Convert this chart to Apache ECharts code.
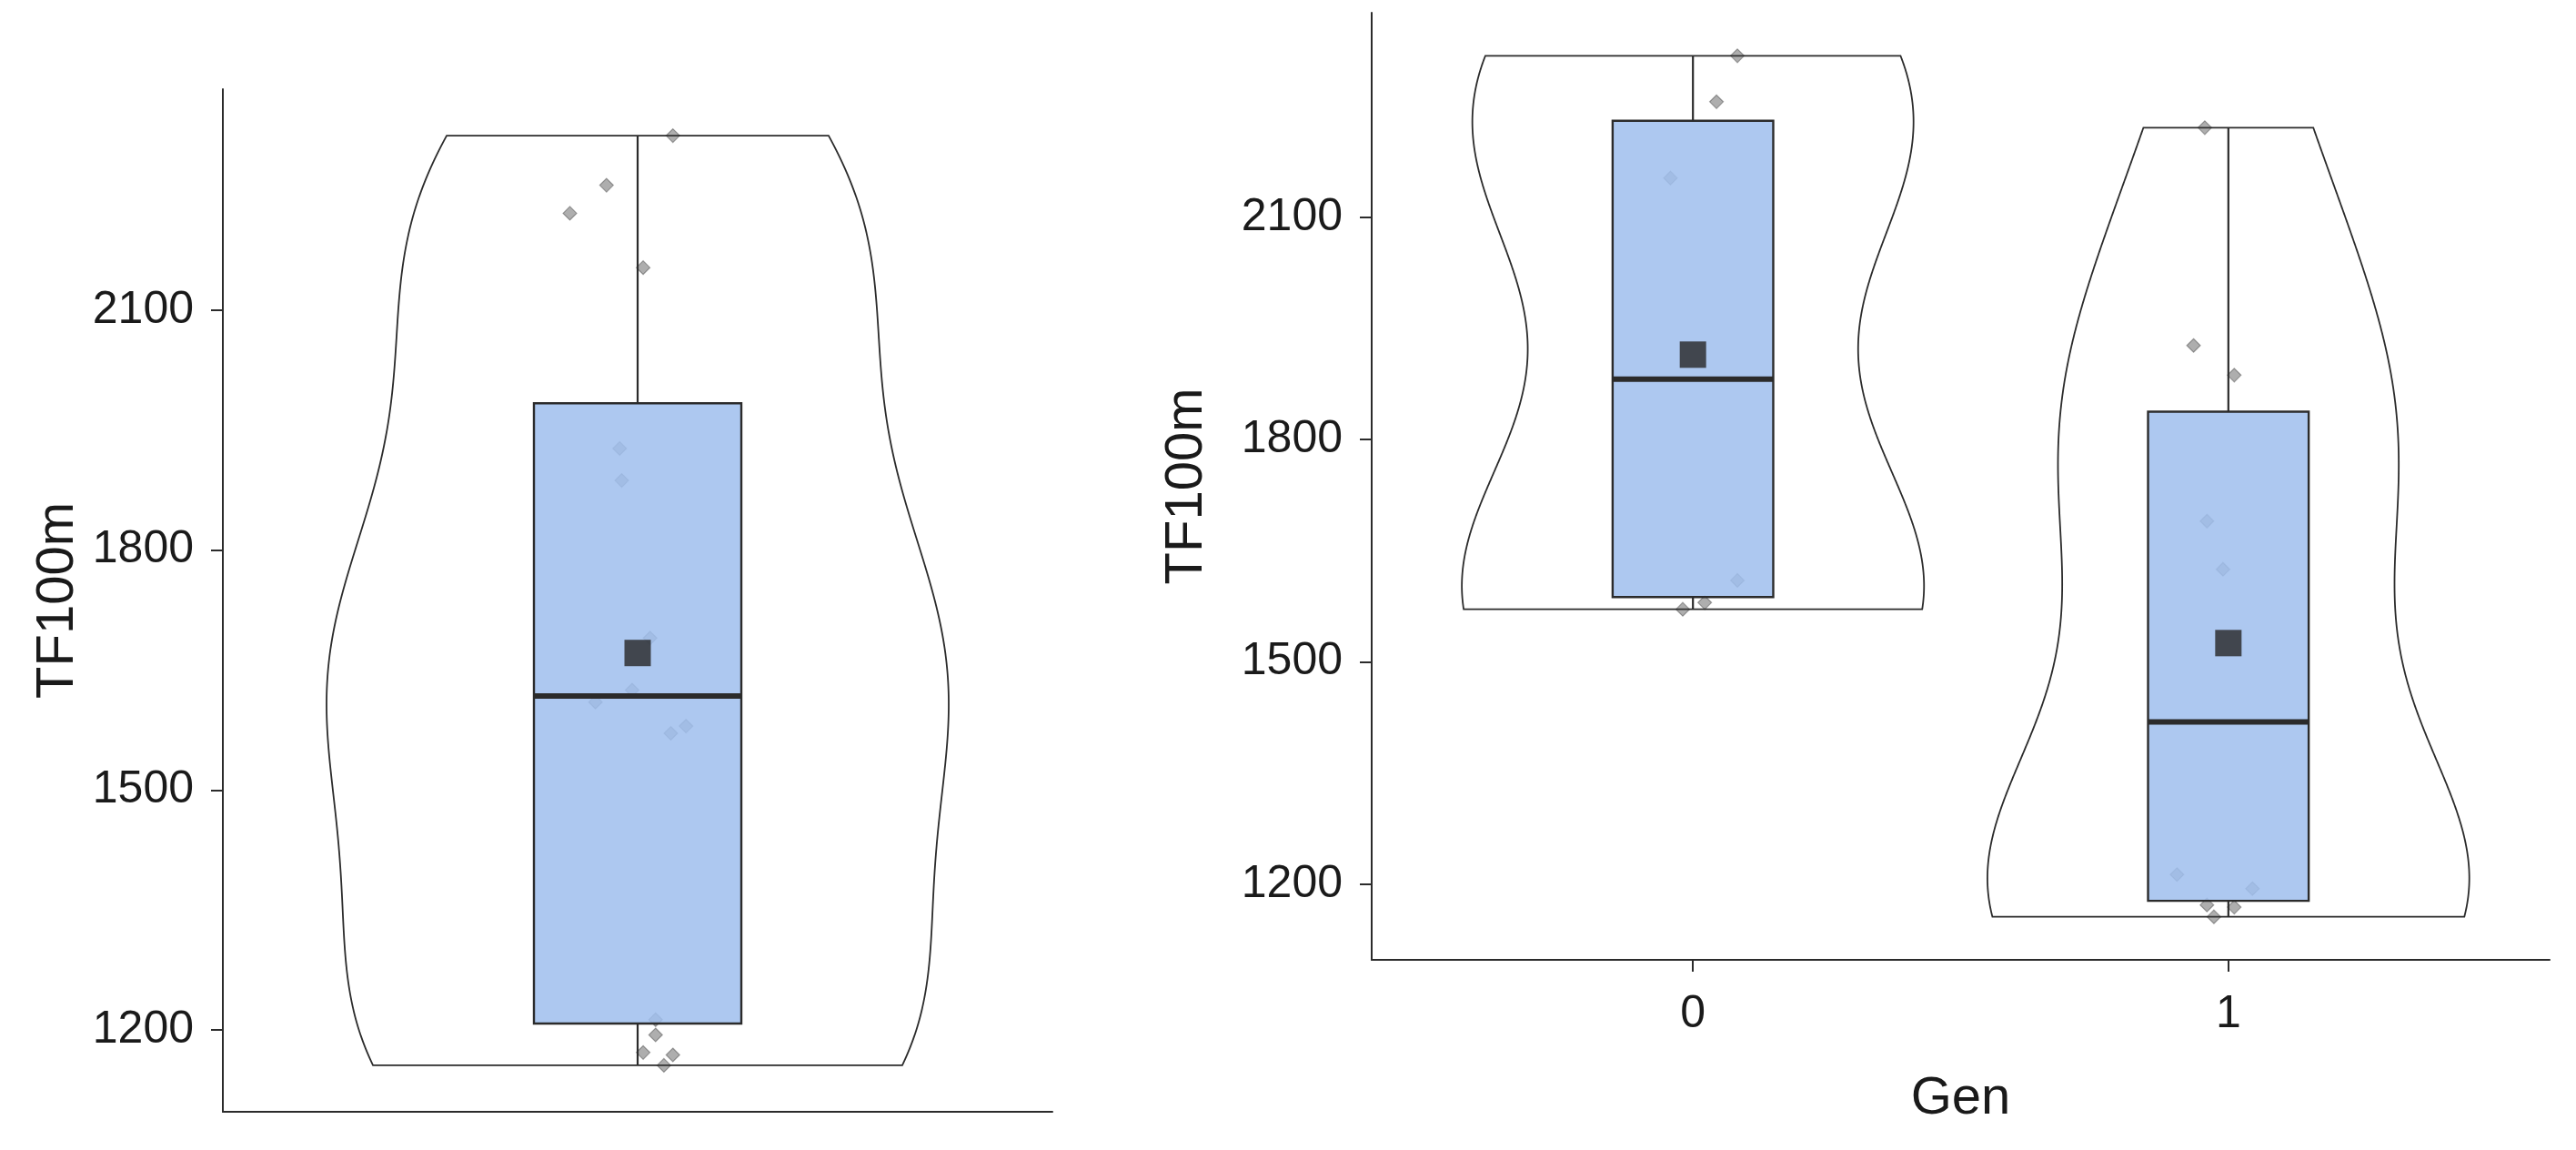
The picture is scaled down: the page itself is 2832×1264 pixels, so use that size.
<!DOCTYPE html>
<html><head><meta charset="utf-8">
<script src="https://cdn.jsdelivr.net/npm/echarts@6/dist/echarts.min.js"></script>
<style>html,body{margin:0;padding:0;background:#fff}#c{width:2832px;height:1264px}</style>
</head><body><div id="c"></div>
<script>
// ---- data ----
const categories = ['0', '1'];
const gen0 = [2318, 2256, 2153, 1610, 1580, 1571];
const gen1 = [2221, 1927, 1887, 1690, 1625, 1213, 1194, 1172, 1169, 1156];
// horizontal jitter offsets (category units)
const jitterGen0 = [0.083, 0.044, -0.042, 0.083, 0.022, -0.019];
const jitterGen1 = [-0.044, -0.065, 0.011, -0.040, -0.010, -0.096, 0.045, -0.040, 0.011, -0.027];
// left panel: all observations (gen0 then gen1) with their own jitter
const jitterAll = [0.051, -0.045, 0.008, -0.061, 0.070, 0.048, -0.098, -0.026, -0.023, 0.018, -0.008, 0.026, 0.026, 0.008, 0.051, 0.038];
const yTicks = [1200, 1500, 1800, 2100];
const yTitle = 'TF100m';
const xTitle = 'Gen';

// ---- statistics (as ggplot computes them) ----
const allVals = gen0.concat(gen1);
function quantile(s, p) { const h = (s.length - 1) * p, lo = Math.floor(h), hi = Math.ceil(h); return s[lo] + (h - lo) * (s[hi] - s[lo]); }
function stats(v) {
  const s = [...v].sort((a, b) => a - b);
  const q1 = quantile(s, 0.25), med = quantile(s, 0.5), q3 = quantile(s, 0.75), iqr = q3 - q1;
  const lo = s.find(x => x >= q1 - 1.5 * iqr), hi = [...s].reverse().find(x => x <= q3 + 1.5 * iqr);
  const mean = v.reduce((a, b) => a + b, 0) / v.length;
  return { q1, med, q3, lo, hi, mean };
}
function kde(v) {
  const n = v.length, s = [...v].sort((a, b) => a - b);
  const m = v.reduce((a, b) => a + b, 0) / n;
  const sd = Math.sqrt(v.reduce((a, b) => a + (b - m) * (b - m), 0) / (n - 1));
  const iqr = quantile(s, 0.75) - quantile(s, 0.25);
  const bw = 0.9 * Math.min(sd, iqr / 1.34) * Math.pow(n, -0.2);
  const lo = s[0], hi = s[n - 1], N = 512, ys = [], ds = [];
  for (let i = 0; i < N; i++) {
    const y = lo + (hi - lo) * i / (N - 1);
    let d = 0;
    for (const x of v) { const z = (y - x) / bw; d += Math.exp(-0.5 * z * z); }
    ys.push(y); ds.push(d / (n * bw * Math.sqrt(2 * Math.PI)));
  }
  return { ys, ds };
}
const yLo = Math.min(...allVals), yHi = Math.max(...allVals);
const yMin = yLo - (yHi - yLo) * 0.05, yMax = yHi + (yHi - yLo) * 0.05;

const panels = [
  { groups: [allVals], xs: [1], jit: [jitterAll] },
  { groups: [gen0, gen1], xs: [1, 2], jit: [jitterGen0, jitterGen1] }
];

const FONT = "'Liberation Sans', Arial, sans-serif";
const TXT = '#1a1a1a';
const LINE = '#2b2b2b';

const series = [];
panels.forEach((p, pi) => {
  const dens = p.groups.map(kde);
  const maxD = Math.max(...dens.map(d => Math.max(...d.ds)));
  const st = p.groups.map(stats);
  // violins
  series.push({
    type: 'custom', xAxisIndex: pi, yAxisIndex: pi, z: 1, silent: true,
    data: p.xs.map((x, i) => [x, st[i].med]),
    renderItem(params, api) {
      const i = params.dataIndex, d = dens[i], x0 = p.xs[i], pts = [];
      for (let k = 0; k < d.ys.length; k++) pts.push(api.coord([x0 + d.ds[k] / maxD * 0.45, d.ys[k]]));
      for (let k = d.ys.length - 1; k >= 0; k--) pts.push(api.coord([x0 - d.ds[k] / maxD * 0.45, d.ys[k]]));
      return { type: 'polygon', shape: { points: pts }, style: { fill: '#fff', stroke: LINE, lineWidth: 1.8 } };
    }
  });
  // jittered points
  series.push({
    type: 'scatter', xAxisIndex: pi, yAxisIndex: pi, z: 2, silent: true,
    symbol: 'diamond', symbolSize: [15, 15],
    itemStyle: { color: 'rgba(60,60,60,0.52)', borderColor: 'rgba(30,30,30,0.45)', borderWidth: 1.2 },
    data: p.groups.flatMap((g, gi) => g.map((v, k) => [p.xs[gi] + p.jit[gi][k], v]))
  });
  // boxplots
  series.push({
    type: 'custom', xAxisIndex: pi, yAxisIndex: pi, z: 3, silent: true,
    data: p.xs.map((x, i) => [x, st[i].med]),
    renderItem(params, api) {
      const i = params.dataIndex, s = st[i], x = p.xs[i], hw = 0.15;
      const tl = api.coord([x - hw, s.q3]), br = api.coord([x + hw, s.q1]);
      const a = api.coord([x, s.q3]), b = api.coord([x, s.hi]), c = api.coord([x, s.q1]), d = api.coord([x, s.lo]);
      const m0 = api.coord([x - hw, s.med]), m1 = api.coord([x + hw, s.med]);
      return { type: 'group', children: [
        { type: 'line', shape: { x1: a[0], y1: a[1], x2: b[0], y2: b[1] }, style: { stroke: LINE, lineWidth: 2.2 } },
        { type: 'line', shape: { x1: c[0], y1: c[1], x2: d[0], y2: d[1] }, style: { stroke: LINE, lineWidth: 2.2 } },
        { type: 'rect', shape: { x: tl[0], y: tl[1], width: br[0] - tl[0], height: br[1] - tl[1] }, style: { fill: 'rgba(160,191,237,0.86)', stroke: LINE, lineWidth: 2.4 } },
        { type: 'line', shape: { x1: m0[0], y1: m0[1], x2: m1[0], y2: m1[1] }, style: { stroke: LINE, lineWidth: 6 } }
      ] };
    }
  });
  // means
  series.push({
    type: 'scatter', xAxisIndex: pi, yAxisIndex: pi, z: 4, silent: true,
    symbol: 'rect', symbolSize: 29, itemStyle: { color: '#262626' },
    data: p.xs.map((x, i) => [x, st[i].mean])
  });
});

const yAxisBase = (gi, gap) => ({
  type: 'value', gridIndex: gi, min: yMin, max: yMax,
  axisLine: { show: true, lineStyle: { color: LINE, width: 2 } },
  axisTick: { show: true, length: 13, customValues: yTicks, lineStyle: { color: LINE, width: 2 } },
  axisLabel: { customValues: yTicks, formatter: v => String(Math.round(v)), fontSize: 50, color: TXT, fontFamily: FONT, margin: 32 },
  splitLine: { show: false },
  name: yTitle, nameLocation: 'middle', nameRotate: 90, nameGap: gap,
  nameTextStyle: { fontSize: 58, color: TXT, fontFamily: FONT }
});

const option = {
  backgroundColor: '#fff',
  animation: false,
  grid: [
    { left: 245, top: 98, width: 912, height: 1124 },
    { left: 1508, top: 14, width: 1295, height: 1041 }
  ],
  xAxis: [
    { type: 'value', gridIndex: 0, min: 0.4, max: 1.6,
      axisLine: { show: true, onZero: false, lineStyle: { color: LINE, width: 2 } },
      axisTick: { show: false }, axisLabel: { show: false }, splitLine: { show: false } },
    { type: 'value', gridIndex: 1, min: 0.4, max: 2.6,
      axisLine: { show: true, onZero: false, lineStyle: { color: LINE, width: 2 } },
      axisTick: { show: true, length: 13, customValues: [1, 2], lineStyle: { color: LINE, width: 2 } },
      axisLabel: { customValues: [1, 2], formatter: v => categories[Math.round(v) - 1], fontSize: 50, color: TXT, fontFamily: FONT, margin: 35 },
      splitLine: { show: false },
      name: xTitle, nameLocation: 'middle', nameGap: 124,
      nameTextStyle: { fontSize: 58, color: TXT, fontFamily: FONT } }
  ],
  yAxis: [yAxisBase(0, 152), yAxisBase(1, 174)],
  series
};
const chart = echarts.init(document.getElementById('c'), null, { renderer: 'canvas' });
chart.setOption(option);
</script></body></html>
